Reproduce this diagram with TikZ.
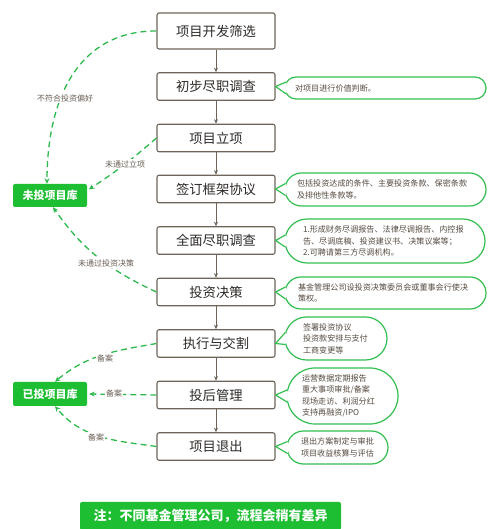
\documentclass[tikz,border=0pt]{standalone}
\usepackage{fontspec}
\setmainfont{Noto Sans CJK SC}
\usetikzlibrary{arrows.meta,calc}
\definecolor{boxline}{RGB}{110,100,90}
\definecolor{maintext}{RGB}{45,42,40}
\definecolor{libgreen}{RGB}{30,190,50}
\definecolor{dashgreen}{RGB}{45,185,75}
\definecolor{notegreen}{RGB}{50,190,80}
\definecolor{notetext}{RGB}{85,75,65}
\definecolor{lbltext}{RGB}{105,95,85}
\newcommand\notepointer[3]{%
  \pgfmathsetmacro\ptoff{#3-sqrt(#3*#3-36)}%
  \fill[white] (#1.east) -- ($(#2.west)+(\ptoff,6)$) -- ($(#2.west)+(3,0)$) -- ($(#2.west)+(\ptoff,-6)$) -- cycle;
  \draw[draw=notegreen, line width=1.2pt, line join=round] ($(#2.west)+(\ptoff,6)$) -- (#1.east) -- ($(#2.west)+(\ptoff,-6)$);
}
\begin{document}
\begin{tikzpicture}[x=1pt,y=1pt,
  stepbox/.style={draw=boxline, line width=1.1pt, rounded corners=2pt, fill=white,
    minimum width=118pt, minimum height=27.5pt, inner sep=0pt, text=maintext,
    font=\fontsize{13.3}{15}\selectfont},
  libbox/.style={fill=libgreen, rounded corners=2pt, minimum width=74pt, minimum height=23pt,
    inner sep=0pt, text=white, font=\fontsize{11}{13}\selectfont\bfseries},
  flow/.style={draw=boxline, line width=1pt, -{Stealth[length=4.5pt,width=4pt]}},
  back/.style={draw=dashgreen, line width=1.3pt, dash pattern=on 6pt off 4pt,
    -{Stealth[length=5.5pt,width=5pt]}},
  lbl/.style={fill=white, inner sep=1pt, text=lbltext, font=\fontsize{8}{9}\selectfont},
  note/.style={draw=notegreen, line width=1.2pt, fill=white, align=left, text=notetext,
    font=\fontsize{8.1}{11.5}\selectfont, inner ysep=0pt},
]
\useasboundingbox (0,0) rectangle (500,529);

% main steps
\node[stepbox, minimum height=36pt] (b1) at (216,498) {项目开发筛选};
\node[stepbox] (b2) at (216,442.5) {初步尽职调查};
\node[stepbox] (b3) at (216,391) {项目立项};
\node[stepbox] (b4) at (216,340) {签订框架协议};
\node[stepbox] (b5) at (216,288.5) {全面尽职调查};
\node[stepbox] (b6) at (216,237) {投资决策};
\node[stepbox] (b7) at (216,185.5) {执行与交割};
\node[stepbox] (b8) at (216,134) {投后管理};
\node[stepbox] (b9) at (216,82.5) {项目退出};

\foreach \a/\b in {b1/b2,b2/b3,b3/b4,b4/b5,b5/b6,b6/b7,b7/b8,b8/b9}
  \draw[flow] (\a) -- (\b);

% libraries
\node[libbox] (lib1) at (50,333.5) {未投项目库};
\node[libbox, minimum height=24pt] (lib2) at (50,135) {已投项目库};

% notes
\node[note, minimum width=201pt, minimum height=22pt, rounded corners=11pt, text width=181pt, inner xsep=10pt] (n1) at (385.5,441) {对项目进行价值判断。};
\node[note, minimum width=201pt, minimum height=33pt, rounded corners=16.5pt, text width=177pt, inner xsep=12pt] (n2) at (385.5,339.5) {包括投资达成的条件、主要投资条款、保密条款\\及排他性条款等。};
\node[note, minimum width=200pt, minimum height=44pt, rounded corners=22pt, text width=164pt, inner xsep=18pt] (n3) at (385,288) {1.形成财务尽调报告、法律尽调报告、内控报\\告、尽调底稿、投资建议书、决策议案等；\\2.可聘请第三方尽调机构。};
\node[note, minimum width=201pt, minimum height=32pt, rounded corners=16pt, text width=175pt, inner xsep=13pt] (n4) at (385.5,236) {基金管理公司设投资决策委员会或董事会行使决\\策权。};
\node[note, minimum width=102pt, minimum height=43pt, rounded corners=21.5pt, text width=66pt, inner xsep=18pt] (n5) at (336,190.5) {签署投资协议\\投资款安排与支付\\工商变更等};
\node[note, minimum width=111pt, minimum height=56pt, rounded corners=28pt, text width=81pt, inner xsep=15pt] (n6) at (342.5,133) {运营数据定期报告\\重大事项审批/备案\\现场走访、利润分红\\支持再融资/IPO};
\node[note, minimum width=101pt, minimum height=33pt, rounded corners=16.5pt, text width=73pt, inner xsep=14pt] (n7) at (337.5,81.5) {退出方案制定与审批\\项目收益核算与评估};

\notepointer{b2}{n1}{11}
\notepointer{b4}{n2}{16.5}
\notepointer{b5}{n3}{22}
\notepointer{b6}{n4}{16}
\notepointer{b7}{n5}{21.5}
\notepointer{b8}{n6}{28}
\notepointer{b9}{n7}{16.5}

% back connectors
\draw[back] (b1.west) to[out=180, in=90, looseness=1.1] ([xshift=-3pt]lib1.north);
\draw[back, shorten >=2pt] (b3.west) to[bend left=4] ([yshift=5pt]lib1.east);
\draw[back] (b6.west) to[out=155, in=-55] ([xshift=3pt]lib1.south);
\draw[back] (b7.west) to[out=190, in=40] ([xshift=5pt]lib2.north);
\draw[back, shorten >=2pt] (b8.west) -- (lib2.east);
\draw[back] (b9.west) to[out=172, in=-50] ([xshift=5pt]lib2.south);

\node[lbl] (l1) at (65,431) {不符合投资偏好};
\node[lbl] (l2) at (125,365) {未通过立项};
\node[lbl] (l3) at (106,266) {未通过投资决策};
\node[lbl] (l4) at (105,171) {备案};
\node[lbl] (l5) at (114,136) {备案};
\node[lbl] (l6) at (96,92) {备案};

% bottom remark
\node[fill=libgreen, rounded corners=2pt, minimum width=261pt, minimum height=28pt, inner sep=0pt,
  text=white, font=\fontsize{13}{15}\selectfont\bfseries] (remark) at (210.5,13) {注：不同基金管理公司，流程会稍有差异};
\end{tikzpicture}
\end{document}
